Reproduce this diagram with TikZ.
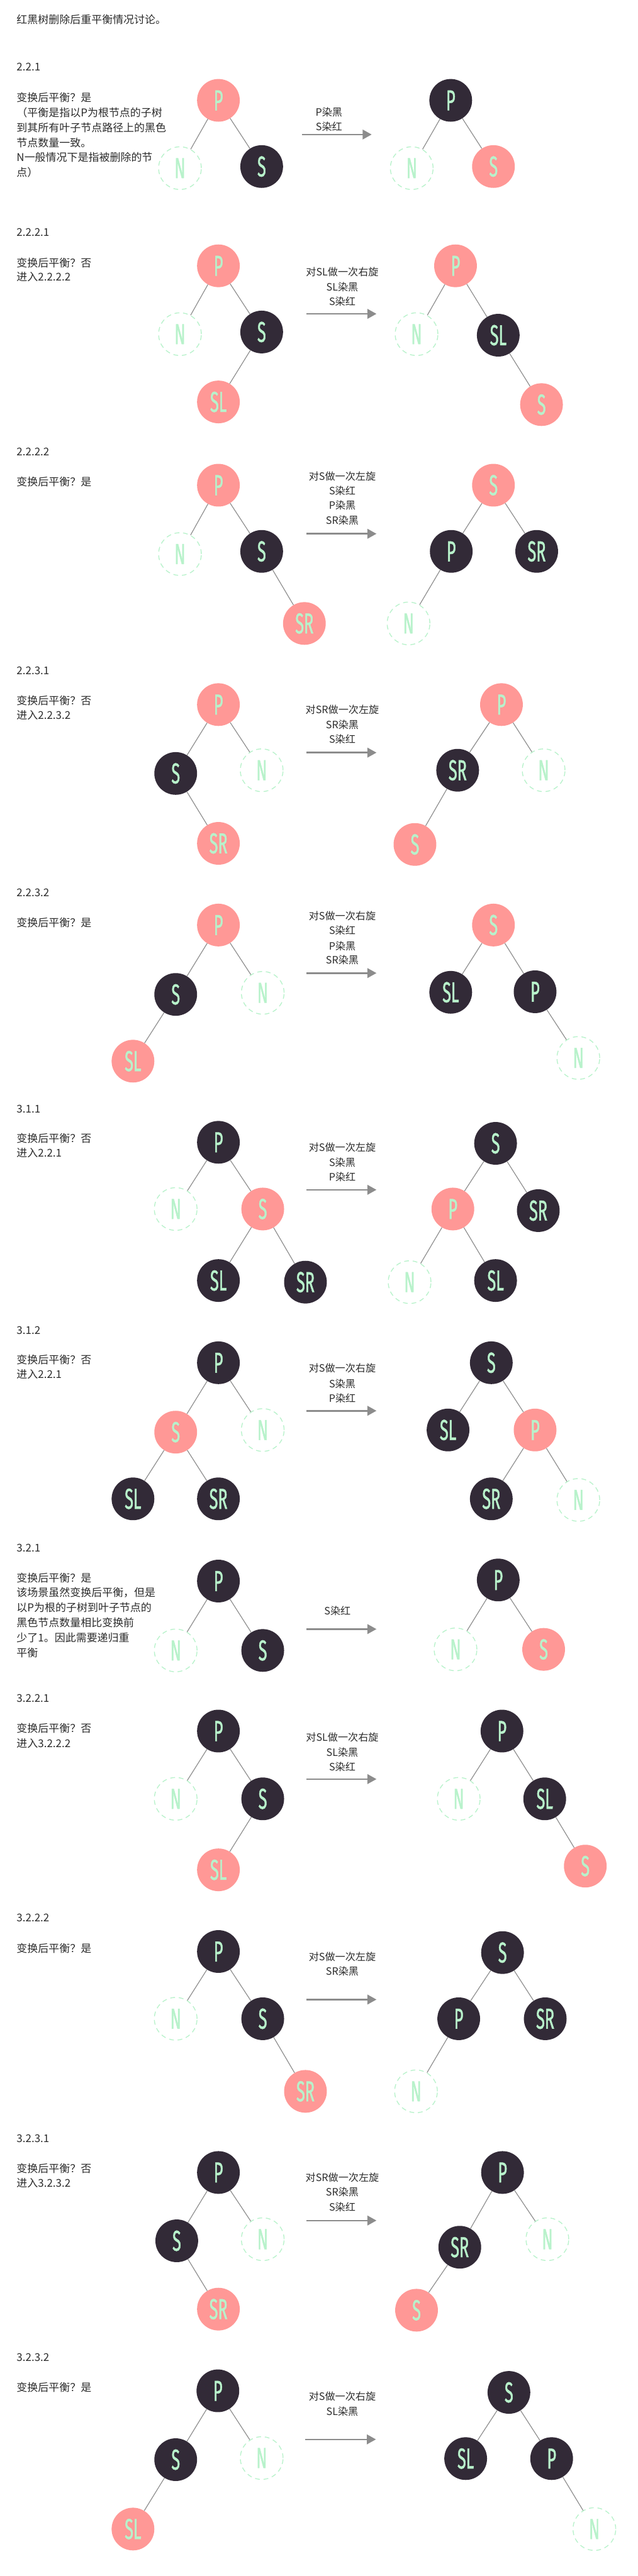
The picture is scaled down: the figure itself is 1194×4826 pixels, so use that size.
\documentclass[tikz,border=0pt]{standalone}
\usepackage{fontspec}
\usetikzlibrary{arrows.meta}
\newfontfamily\cjk{Noto Sans CJK SC}
\newfontfamily\nodefont[FakeStretch=0.55,FakeBold=1]{Fira Sans}
\definecolor{nred}{HTML}{FF9896}
\definecolor{nblack}{HTML}{322A37}
\definecolor{mint}{HTML}{B8F2CB}
\definecolor{edgegray}{HTML}{8E8E8E}
\definecolor{arrowgray}{HTML}{8C8C8C}
\definecolor{txtc}{HTML}{2B2B2B}
\begin{document}
\begin{tikzpicture}[x=1pt,y=-1pt,
 tnode/.style={circle, minimum size=80pt, inner sep=0pt, text=mint, font=\nodefont\fontsize{54}{54}\selectfont},
 rn/.style={tnode, fill=nred},
 bn/.style={tnode, fill=nblack},
 dn/.style={tnode, draw=mint, line width=1.6pt, dash pattern=on 9pt off 7pt},
 edge/.style={draw=edgegray, line width=1.4pt},
 trans/.style={draw=arrowgray, line width=3pt, -{Triangle[length=17pt,width=18pt]}},
 txt/.style={anchor=west, inner sep=0pt, text=txtc, font=\cjk\fontsize{20}{28}\selectfont},
 lbl/.style={inner sep=0pt, text=txtc, font=\cjk\fontsize{19}{27}\selectfont},
]
\useasboundingbox (0,0) rectangle (1194,4826);
\node[txt] (title) at (31,37) {红黑树删除后重平衡情况讨论。};

% ---------- 2.2.1
\node[txt] (h1) at (31,126) {2.2.1};
\foreach \t [count=\i] in {变换后平衡？是,（平衡是指以P为根节点的子树,到其所有叶子节点路径上的黑色,节点数量一致。,N一般情况下是指被删除的节,点）}
  \node[txt] (d1-\i) at (31,183+28*\i-28) {\t};
\node[rn] (a1P) at (409,188) {P};
\node[dn] (a1N) at (337,315) {N};
\node[bn] (a1S) at (490,312) {S};
\draw[edge] (a1P) -- (a1N); \draw[edge] (a1P) -- (a1S);
\coordinate (t1s) at (565,252); \coordinate (t1e) at (696,252);
\draw[trans] (t1s) -- (t1e);
\node[lbl] (l1-1) at (616,210) {P染黑};
\node[lbl] (l1-2) at (616,237) {S染红};
\node[bn] (b1P) at (844,188) {P};
\node[dn] (b1N) at (771,315) {N};
\node[rn] (b1S) at (924,312) {S};
\draw[edge] (b1P) -- (b1N); \draw[edge] (b1P) -- (b1S);

% ---------- 2.2.2.1
\node[txt] (h2) at (31,435) {2.2.2.1};
\node[txt] (d2-1) at (31,492) {变换后平衡？否};
\node[txt] (d2-2) at (31,519) {进入2.2.2.2};
\node[rn] (a2P) at (409,498) {P};
\node[dn] (a2N) at (337,626) {N};
\node[bn] (a2S) at (490,622) {S};
\node[rn] (a2SL) at (409,753) {SL};
\draw[edge] (a2P) -- (a2N); \draw[edge] (a2P) -- (a2S); \draw[edge] (a2S) -- (a2SL);
\coordinate (t2s) at (574,588); \coordinate (t2e) at (705,588);
\draw[trans] (t2s) -- (t2e);
\node[lbl] (l2-1) at (641,510) {对SL做一次右旋};
\node[lbl] (l2-2) at (641,538) {SL染黑};
\node[lbl] (l2-3) at (641,565) {S染红};
\node[rn] (b2P) at (853,498) {P};
\node[dn] (b2N) at (780,626) {N};
\node[bn] (b2SL) at (933,628) {SL};
\node[rn] (b2S) at (1014,758) {S};
\draw[edge] (b2P) -- (b2N); \draw[edge] (b2P) -- (b2SL); \draw[edge] (b2SL) -- (b2S);

% ---------- 2.2.2.2
\node[txt] (h3) at (31,847) {2.2.2.2};
\node[txt] (d3-1) at (31,903) {变换后平衡？是};
\node[rn] (a3P) at (409,909) {P};
\node[dn] (a3N) at (337,1038) {N};
\node[bn] (a3S) at (490,1033) {S};
\node[rn] (a3SR) at (570,1168) {SR};
\draw[edge] (a3P) -- (a3N); \draw[edge] (a3P) -- (a3S); \draw[edge] (a3S) -- (a3SR);
\coordinate (t3s) at (574,1000); \coordinate (t3e) at (705,1000);
\draw[trans] (t3s) -- (t3e);
\node[lbl] (l3-1) at (641,892) {对S做一次左旋};
\node[lbl] (l3-2) at (641,919) {S染红};
\node[lbl] (l3-3) at (641,947) {P染黑};
\node[lbl] (l3-4) at (641,975) {SR染黑};
\node[rn] (b3S) at (924,909) {S};
\node[bn] (b3P) at (845,1033) {P};
\node[bn] (b3SR) at (1005,1033) {SR};
\node[dn] (b3N) at (765,1168) {N};
\draw[edge] (b3S) -- (b3P); \draw[edge] (b3S) -- (b3SR); \draw[edge] (b3P) -- (b3N);

% ---------- 2.2.3.1
\node[txt] (h4) at (31,1257) {2.2.3.1};
\node[txt] (d4-1) at (31,1313) {变换后平衡？否};
\node[txt] (d4-2) at (31,1340) {进入2.2.3.2};
\node[rn] (a4P) at (409,1320) {P};
\node[bn] (a4S) at (329,1449) {S};
\node[dn] (a4N) at (490,1443) {N};
\node[rn] (a4SR) at (409,1580) {SR};
\draw[edge] (a4P) -- (a4S); \draw[edge] (a4P) -- (a4N); \draw[edge] (a4S) -- (a4SR);
\coordinate (t4s) at (574,1410); \coordinate (t4e) at (705,1410);
\draw[trans] (t4s) -- (t4e);
\node[lbl] (l4-1) at (641,1330) {对SR做一次左旋};
\node[lbl] (l4-2) at (641,1358) {SR染黑};
\node[lbl] (l4-3) at (641,1385) {S染红};
\node[rn] (b4P) at (939,1320) {P};
\node[bn] (b4SR) at (857,1443) {SR};
\node[dn] (b4N) at (1018,1443) {N};
\node[rn] (b4S) at (777,1582) {S};
\draw[edge] (b4P) -- (b4SR); \draw[edge] (b4P) -- (b4N); \draw[edge] (b4SR) -- (b4S);

% ---------- 2.2.3.2
\node[txt] (h5) at (31,1672) {2.2.3.2};
\node[txt] (d5-1) at (31,1728) {变换后平衡？是};
\node[rn] (a5P) at (409,1733) {P};
\node[bn] (a5S) at (329,1863) {S};
\node[dn] (a5N) at (492,1860) {N};
\node[rn] (a5SL) at (249,1988) {SL};
\draw[edge] (a5P) -- (a5S); \draw[edge] (a5P) -- (a5N); \draw[edge] (a5S) -- (a5SL);
\coordinate (t5s) at (574,1823); \coordinate (t5e) at (705,1823);
\draw[trans] (t5s) -- (t5e);
\node[lbl] (l5-1) at (641,1716) {对S做一次右旋};
\node[lbl] (l5-2) at (641,1743) {S染红};
\node[lbl] (l5-3) at (641,1772) {P染黑};
\node[lbl] (l5-4) at (641,1799) {SR染黑};
\node[rn] (b5S) at (924,1733) {S};
\node[bn] (b5SL) at (844,1859) {SL};
\node[bn] (b5P) at (1002,1858) {P};
\node[dn] (b5N) at (1083,1982) {N};
\draw[edge] (b5S) -- (b5SL); \draw[edge] (b5S) -- (b5P); \draw[edge] (b5P) -- (b5N);

% ---------- 3.1.1
\node[txt] (h6) at (31,2078) {3.1.1};
\node[txt] (d6-1) at (31,2133) {变换后平衡？否};
\node[txt] (d6-2) at (31,2160) {进入2.2.1};
\node[bn] (a6P) at (409,2140) {P};
\node[dn] (a6N) at (329,2265) {N};
\node[rn] (a6S) at (492,2265) {S};
\node[bn] (a6SL) at (409,2399) {SL};
\node[bn] (a6SR) at (572,2402) {SR};
\draw[edge] (a6P) -- (a6N); \draw[edge] (a6P) -- (a6S); \draw[edge] (a6S) -- (a6SL); \draw[edge] (a6S) -- (a6SR);
\coordinate (t6s) at (574,2229); \coordinate (t6e) at (705,2229);
\draw[trans] (t6s) -- (t6e);
\node[lbl] (l6-1) at (641,2150) {对S做一次左旋};
\node[lbl] (l6-2) at (641,2178) {S染黑};
\node[lbl] (l6-3) at (641,2205) {P染红};
\node[bn] (b6S) at (928,2142) {S};
\node[rn] (b6P) at (848,2265) {P};
\node[bn] (b6SR) at (1008,2268) {SR};
\node[dn] (b6N) at (767,2402) {N};
\node[bn] (b6SL) at (928,2399) {SL};
\draw[edge] (b6S) -- (b6P); \draw[edge] (b6S) -- (b6SR); \draw[edge] (b6P) -- (b6N); \draw[edge] (b6P) -- (b6SL);

% ---------- 3.1.2
\node[txt] (h7) at (31,2492) {3.1.2};
\node[txt] (d7-1) at (31,2547) {变换后平衡？否};
\node[txt] (d7-2) at (31,2575) {进入2.2.1};
\node[bn] (a7P) at (409,2553) {P};
\node[rn] (a7S) at (329,2683) {S};
\node[dn] (a7N) at (492,2679) {N};
\node[bn] (a7SL) at (249,2808) {SL};
\node[bn] (a7SR) at (409,2808) {SR};
\draw[edge] (a7P) -- (a7S); \draw[edge] (a7P) -- (a7N); \draw[edge] (a7S) -- (a7SL); \draw[edge] (a7S) -- (a7SR);
\coordinate (t7s) at (574,2643); \coordinate (t7e) at (705,2643);
\draw[trans] (t7s) -- (t7e);
\node[lbl] (l7-1) at (641,2563) {对S做一次右旋};
\node[lbl] (l7-2) at (641,2592) {S染黑};
\node[lbl] (l7-3) at (641,2619) {P染红};
\node[bn] (b7S) at (920,2553) {S};
\node[bn] (b7SL) at (839,2679) {SL};
\node[rn] (b7P) at (1002,2679) {P};
\node[bn] (b7SR) at (920,2808) {SR};
\node[dn] (b7N) at (1083,2810) {N};
\draw[edge] (b7S) -- (b7SL); \draw[edge] (b7S) -- (b7P); \draw[edge] (b7P) -- (b7SR); \draw[edge] (b7P) -- (b7N);

% ---------- 3.2.1
\node[txt] (h8) at (31,2900) {3.2.1};
\foreach \t [count=\i] in {变换后平衡？是,该场景虽然变换后平衡，但是,以P为根的子树到叶子节点的,黑色节点数量相比变换前,少了1。因此需要递归重,平衡}
  \node[txt] (d8-\i) at (31,2956+28*\i-28) {\t};
\node[bn] (a8P) at (409,2962) {P};
\node[dn] (a8N) at (329,3092) {N};
\node[bn] (a8S) at (492,3092) {S};
\draw[edge] (a8P) -- (a8N); \draw[edge] (a8P) -- (a8S);
\coordinate (t8s) at (574,3052); \coordinate (t8e) at (705,3052);
\draw[trans] (t8s) -- (t8e);
\node[lbl] (l8-1) at (632,3018) {S染红};
\node[bn] (b8P) at (933,2960) {P};
\node[dn] (b8N) at (853,3090) {N};
\node[rn] (b8S) at (1018,3090) {S};
\draw[edge] (b8P) -- (b8N); \draw[edge] (b8P) -- (b8S);

% ---------- 3.2.2.1
\node[txt] (h9) at (31,3182) {3.2.2.1};
\node[txt] (d9-1) at (31,3238) {变换后平衡？否};
\node[txt] (d9-2) at (31,3266) {进入3.2.2.2};
\node[bn] (a9P) at (409,3243) {P};
\node[dn] (a9N) at (329,3370) {N};
\node[bn] (a9S) at (492,3370) {S};
\node[rn] (a9SL) at (409,3503) {SL};
\draw[edge] (a9P) -- (a9N); \draw[edge] (a9P) -- (a9S); \draw[edge] (a9S) -- (a9SL);
\coordinate (t9s) at (574,3333); \coordinate (t9e) at (705,3333);
\draw[trans] (t9s) -- (t9e);
\node[lbl] (l9-1) at (641,3255) {对SL做一次右旋};
\node[lbl] (l9-2) at (641,3283) {SL染黑};
\node[lbl] (l9-3) at (641,3310) {S染红};
\node[bn] (b9P) at (940,3243) {P};
\node[dn] (b9N) at (859,3370) {N};
\node[bn] (b9SL) at (1020,3370) {SL};
\node[rn] (b9S) at (1096,3496) {S};
\draw[edge] (b9P) -- (b9N); \draw[edge] (b9P) -- (b9SL); \draw[edge] (b9SL) -- (b9S);

% ---------- 3.2.2.2
\node[txt] (h10) at (31,3593) {3.2.2.2};
\node[txt] (d10-1) at (31,3650) {变换后平衡？是};
\node[bn] (a10P) at (409,3656) {P};
\node[dn] (a10N) at (329,3782) {N};
\node[bn] (a10S) at (492,3782) {S};
\node[rn] (a10SR) at (572,3918) {SR};
\draw[edge] (a10P) -- (a10N); \draw[edge] (a10P) -- (a10S); \draw[edge] (a10S) -- (a10SR);
\coordinate (t10s) at (574,3746); \coordinate (t10e) at (705,3746);
\draw[trans] (t10s) -- (t10e);
\node[lbl] (l10-1) at (641,3666) {对S做一次左旋};
\node[lbl] (l10-2) at (641,3693) {SR染黑};
\node[bn] (b10S) at (941,3658) {S};
\node[bn] (b10P) at (859,3782) {P};
\node[bn] (b10SR) at (1021,3782) {SR};
\node[dn] (b10N) at (779,3918) {N};
\draw[edge] (b10S) -- (b10P); \draw[edge] (b10S) -- (b10SR); \draw[edge] (b10P) -- (b10N);

% ---------- 3.2.3.1
\node[txt] (h11) at (31,4007) {3.2.3.1};
\node[txt] (d11-1) at (31,4063) {变换后平衡？否};
\node[txt] (d11-2) at (31,4090) {进入3.2.3.2};
\node[bn] (a11P) at (409,4070) {P};
\node[bn] (a11S) at (331,4198) {S};
\node[dn] (a11N) at (492,4195) {N};
\node[rn] (a11SR) at (409,4326) {SR};
\draw[edge] (a11P) -- (a11S); \draw[edge] (a11P) -- (a11N); \draw[edge] (a11S) -- (a11SR);
\coordinate (t11s) at (574,4160); \coordinate (t11e) at (705,4160);
\draw[trans] (t11s) -- (t11e);
\node[lbl] (l11-1) at (641,4080) {对SR做一次左旋};
\node[lbl] (l11-2) at (641,4107) {SR染黑};
\node[lbl] (l11-3) at (641,4135) {S染红};
\node[bn] (b11P) at (941,4070) {P};
\node[bn] (b11SR) at (861,4210) {SR};
\node[dn] (b11N) at (1025,4195) {N};
\node[rn] (b11S) at (780,4328) {S};
\draw[edge] (b11P) -- (b11SR); \draw[edge] (b11P) -- (b11N); \draw[edge] (b11SR) -- (b11S);

% ---------- 3.2.3.2
\node[txt] (h12) at (31,4417) {3.2.3.2};
\node[txt] (d12-1) at (31,4473) {变换后平衡？是};
\node[bn] (a12P) at (408,4479) {P};
\node[bn] (a12S) at (329,4608) {S};
\node[dn] (a12N) at (490,4605) {N};
\node[rn] (a12SL) at (249,4738) {SL};
\draw[edge] (a12P) -- (a12S); \draw[edge] (a12P) -- (a12N); \draw[edge] (a12S) -- (a12SL);
\coordinate (t12s) at (572,4570); \coordinate (t12e) at (704,4570);
\draw[trans] (t12s) -- (t12e);
\node[lbl] (l12-1) at (641,4490) {对S做一次右旋};
\node[lbl] (l12-2) at (641,4518) {SL染黑};
\node[bn] (b12S) at (953,4482) {S};
\node[bn] (b12SL) at (872,4606) {SL};
\node[bn] (b12P) at (1033,4606) {P};
\node[dn] (b12N) at (1113,4738) {N};
\draw[edge] (b12S) -- (b12SL); \draw[edge] (b12S) -- (b12P); \draw[edge] (b12P) -- (b12N);
\end{tikzpicture}
\end{document}
